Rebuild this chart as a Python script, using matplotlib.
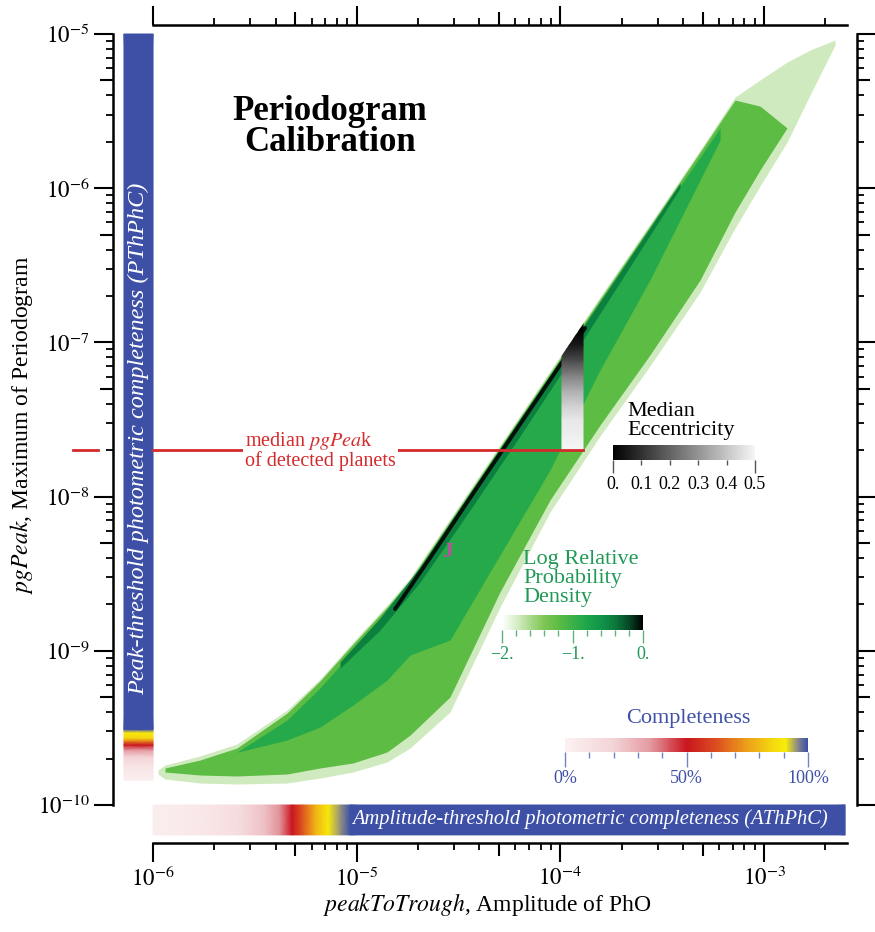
import numpy as np
import matplotlib
matplotlib.use('Agg')
import matplotlib.pyplot as plt
from matplotlib.colors import LinearSegmentedColormap, Normalize
from matplotlib.cm import ScalarMappable
from matplotlib.ticker import FixedLocator, FixedFormatter

plt.rcParams['font.family'] = ['Liberation Serif', 'DejaVu Serif']
plt.rcParams['mathtext.fontset'] = 'stix'

# ---- data ----
# green density band (peakToTrough -> pgPeak), drawn as nested iso-density regions
halo_amp = [1.058e-6, 1.145e-6, 1.70e-6, 2.58e-6, 4.55e-6, 6.60e-6, 9.59e-6, 1.408e-5, 1.827e-5, 2.87e-5,
            5.05e-5, 8.89e-5, 1.564e-4, 2.75e-4, 4.85e-4, 7.20e-4, 9.55e-4, 1.296e-3, 1.68e-3, 2.23e-3]
halo_upper = [1.687e-10, 1.817e-10, 2.08e-10, 2.486e-10, 4.13e-10, 6.56e-10, 1.140e-9, 1.981e-9, 2.966e-9, 7.16e-9,
              2.161e-8, 6.53e-8, 1.970e-7, 5.86e-7, 1.769e-6, 3.90e-6, 5.03e-6, 6.58e-6, 7.87e-6, 9.14e-6]
halo_lower = [1.589e-10, 1.474e-10, 1.389e-10, 1.368e-10, 1.389e-10, 1.496e-10, 1.637e-10, 1.900e-10, 2.34e-10, 4.01e-10,
              1.92e-9, 7.94e-9, 2.47e-8, 7.03e-8, 2.12e-7, 5.52e-7, 1.033e-6, 1.993e-6, 4.02e-6, 8.49e-6]

body_amp = [1.145e-6, 1.70e-6, 2.58e-6, 4.55e-6, 6.60e-6, 9.59e-6, 1.408e-5, 1.827e-5, 2.87e-5, 5.05e-5,
            8.89e-5, 1.564e-4, 2.75e-4, 4.85e-4, 7.20e-4, 9.55e-4, 1.296e-3]
body_upper = [1.738e-10, 1.957e-10, 2.34e-10, 3.95e-10, 6.37e-10, 1.106e-9, 1.92e-9, 2.877e-9, 6.95e-9, 2.10e-8,
              6.33e-8, 1.912e-7, 5.69e-7, 1.717e-6, 3.73e-6, 3.41e-6, 2.46e-6]
body_lower = [1.637e-10, 1.565e-10, 1.542e-10, 1.589e-10, 1.738e-10, 1.873e-10, 2.207e-10, 2.84e-10, 5.02e-10, 2.41e-9,
              9.51e-9, 2.91e-8, 8.28e-8, 2.54e-7, 7.01e-7, 1.312e-6, 2.46e-6]

core_amp = [2.58e-6, 4.55e-6, 6.60e-6, 9.59e-6, 1.408e-5, 1.827e-5, 2.87e-5, 5.05e-5, 8.89e-5, 1.564e-4,
            2.75e-4, 4.85e-4, 6.08e-4]
core_upper = [2.2e-10, 3.56e-10, 5.74e-10, 9.97e-10, 1.758e-9, 2.67e-9, 6.54e-9, 2.005e-8, 6.05e-8, 1.80e-7,
              5.36e-7, 1.593e-6, 2.46e-6]
core_lower = [2.2e-10, 2.64e-10, 3.20e-10, 4.45e-10, 6.46e-10, 9.39e-10, 1.175e-9, 4.18e-9, 1.488e-8, 6.62e-8,
              2.54e-7, 1.130e-6, 2.05e-6]

deep_amp = [8.28e-6, 1.301e-5, 2.046e-5, 3.60e-5, 6.33e-5, 1.115e-4, 1.962e-4, 3.87e-4]
deep_upper = [8.46e-10, 1.632e-9, 3.50e-9, 1.055e-8, 3.19e-8, 9.48e-8, 2.86e-7, 1.081e-6]
deep_lower = [7.73e-10, 1.364e-9, 2.79e-9, 8.18e-9, 2.47e-8, 7.69e-8, 2.46e-7, 1.003e-6]

ridge_amp = [1.542e-5, 2.29e-5, 3.60e-5, 5.66e-5, 8.89e-5, 1.321e-4]
ridge_pg = [1.866e-9, 4.00e-9, 9.79e-9, 2.363e-8, 5.70e-8, 1.240e-7]

# log relative density level of each region
level_halo, level_body, level_core, level_deep, level_ridge = -1.6, -1.2, -0.85, -0.45, -0.05

# median eccentricity strip
ecc_amp = [1.018e-4, 1.291e-4]
ecc_pg = [2.0e-8, 2.33e-8, 3.14e-8, 3.93e-8, 4.91e-8, 6.14e-8, 7.69e-8, 9.62e-8, 1.203e-7, 1.45e-7]
ecc_med = [0.5, 0.49, 0.47, 0.42, 0.35, 0.26, 0.15, 0.05, 0.0, 0.0]

median_pg = 2.0e-8
jupiter_amp, jupiter_pg = 2.78e-5, 4.37e-9

# completeness along each axis
athphc_amp = [1.0e-6, 1.7e-6, 2.67e-6, 3.54e-6, 4.2e-6, 4.81e-6, 5.45e-6, 6.24e-6, 7.24e-6, 8.3e-6, 9.3e-6, 2.5e-3]
athphc = [0.02, 0.06, 0.14, 0.25, 0.36, 0.5, 0.64, 0.78, 0.9, 0.95, 1.0, 1.0]
pthphc_pg = [1.45e-10, 1.76e-10, 2.05e-10, 2.27e-10, 2.45e-10, 2.6e-10, 2.72e-10, 2.93e-10, 3.0e-10, 3.1e-10, 1.0e-5]
pthphc = [0.02, 0.08, 0.2, 0.35, 0.5, 0.7, 0.85, 0.9, 0.93, 1.0, 1.0]

# axis ticks
x_major = [1e-6, 1e-5, 1e-4, 1e-3, 5e-6, 5e-5, 5e-4]
x_labels = ['$10^{-6}$', '$10^{-5}$', '$10^{-4}$', '$10^{-3}$', '', '', '']
x_minor = [2e-6, 3e-6, 4e-6, 6e-6, 7e-6, 8e-6, 9e-6, 2e-5, 3e-5, 4e-5, 6e-5, 7e-5, 8e-5, 9e-5,
           2e-4, 3e-4, 4e-4, 6e-4, 7e-4, 8e-4, 9e-4, 2e-3]
y_major = [1e-10, 1e-9, 1e-8, 1e-7, 1e-6, 1e-5, 5e-10, 5e-9, 5e-8, 5e-7, 5e-6]
y_labels = ['$10^{-10}$', '$10^{-9}$', '$10^{-8}$', '$10^{-7}$', '$10^{-6}$', '$10^{-5}$', '', '', '', '', '']
y_minor = [k * 10.0 ** e for e in range(-10, -5) for k in (2, 3, 4, 6, 7, 8, 9)]

# colour scales
dens_cmap = LinearSegmentedColormap.from_list('dens', [
    (0.0, '#ffffff'), (0.1, '#d8eec8'), (0.2, '#a9d98a'), (0.3, '#7cc652'), (0.4, '#5cbc44'),
    (0.5, '#3bb14a'), (0.6, '#1ea64a'), (0.7, '#10954a'), (0.8, '#0b7a3c'), (0.9, '#064826'), (1.0, '#000000')])
ecc_cmap = LinearSegmentedColormap.from_list('ecc', ['#000000', '#f6f6f6'])
comp_cmap = LinearSegmentedColormap.from_list('comp', [
    (0.0, '#fcf1f1'), (0.2, '#f3d3d6'), (0.35, '#e49aa1'), (0.5, '#c9151f'), (0.62, '#dc4c20'),
    (0.75, '#eca01a'), (0.87, '#f6df0e'), (0.91, '#f8ec0a'), (0.955, '#8f8e85'), (1.0, '#3d50a6')])
dens_norm = Normalize(-2, 0)

W, H = 875, 932
fig = plt.figure(figsize=(W / 100, H / 100), dpi=100)
ax = fig.add_axes([113 / W, 1 - 843 / H, 744 / W, 818 / H])
ax.set_xscale('log')
ax.set_yscale('log')

# density band
ax.fill_between(halo_amp, halo_lower, halo_upper, color=dens_cmap(dens_norm(level_halo)), lw=0, alpha=0.55, zorder=1)
body = ax.fill_between(body_amp, body_lower, body_upper, color=dens_cmap(dens_norm(level_body)), lw=0, zorder=1.1)
ax.fill_between(core_amp, core_lower, core_upper, color=dens_cmap(dens_norm(level_core)), lw=0, zorder=1.2)
ax.fill_between(deep_amp, deep_lower, deep_upper, color=dens_cmap(dens_norm(level_deep)), lw=0, zorder=1.3)
ax.plot(ridge_amp, ridge_pg, color=dens_cmap(dens_norm(level_ridge)), lw=2.8, solid_capstyle='round', zorder=1.4)

# eccentricity strip, clipped to the band
ex, ey = np.meshgrid(ecc_amp, ecc_pg)
ec = np.tile(np.array(ecc_med)[:, None], (1, 2))
strip = ax.pcolormesh(ex, ey, ec, cmap=ecc_cmap, norm=Normalize(0, 0.5), shading='gouraud', zorder=1.5)
strip.set_clip_path(body.get_paths()[0], ax.transData)

# completeness bars
bx, by = np.meshgrid(athphc_amp, [6.4e-11, 1.0e-10])
ax.pcolormesh(bx, by, np.tile(athphc, (2, 1)), cmap=comp_cmap, norm=Normalize(0, 1), shading='gouraud', zorder=2)
lx, ly = np.meshgrid([7.2e-7, 1.0e-6], pthphc_pg)
ax.pcolormesh(lx, ly, np.tile(np.array(pthphc)[:, None], (1, 2)), cmap=comp_cmap, norm=Normalize(0, 1),
              shading='gouraud', zorder=2)

# median pgPeak of detected planets
red = '#d42a2c'
ax.plot([1e-6, ecc_amp[-1]], [median_pg, median_pg], color=red, lw=2, zorder=5)
ax.plot([4.05e-7, 5.37e-7], [median_pg, median_pg], color=red, lw=2, clip_on=False, zorder=5)
ax.text(2.83e-6, median_pg, 'median $\\mathit{pgPea}$k\nof detected planets', color=red, fontsize=14.5,
        ha='left', va='center', linespacing=0.95, zorder=6,
        bbox=dict(facecolor='white', edgecolor='none', pad=1.5))

ax.text(jupiter_amp, jupiter_pg, 'J', color='#bd4f9d', fontsize=15, fontweight='bold', ha='center', va='center',
        zorder=6)

ax.set_xlim(6.36e-7, 2.858e-3)
ax.set_ylim(5.67e-11, 1.144e-5)

# frame
for s in ax.spines.values():
    s.set_linewidth(1.8)
ax.spines['bottom'].set_bounds(1e-6, 2.55e-3)
ax.spines['top'].set_bounds(1e-6, 2.55e-3)
ax.spines['left'].set_bounds(1e-10, 1e-5)
ax.spines['right'].set_bounds(1e-10, 1e-5)

ax.xaxis.set_major_locator(FixedLocator(x_major))
ax.xaxis.set_major_formatter(FixedFormatter(x_labels))
ax.xaxis.set_minor_locator(FixedLocator(x_minor))
ax.yaxis.set_major_locator(FixedLocator(y_major))
ax.yaxis.set_major_formatter(FixedFormatter(y_labels))
ax.yaxis.set_minor_locator(FixedLocator(y_minor))
ax.tick_params(which='both', direction='out', top=True, right=True, labeltop=False, labelright=False)
ax.tick_params(which='major', length=14, width=1.5, labelsize=16.5, pad=3)
ax.tick_params(which='minor', length=5, width=1.3)
for t in ax.xaxis.get_major_ticks(len(x_major))[4:]:
    t.tick1line.set_markersize(9.5)
    t.tick2line.set_markersize(9.5)
for t in ax.yaxis.get_major_ticks(len(y_major))[6:]:
    t.tick1line.set_markersize(9.5)
    t.tick2line.set_markersize(9.5)

fig.text(487 / W, 1 - 905 / H, '$\\mathit{peakToTrough}$, Amplitude of PhO', fontsize=17, ha='center', va='center')
fig.text(22 / W, 1 - 425 / H, '$\\mathit{pgPeak}$, Maximum of Periodogram', fontsize=17, ha='center', va='center',
         rotation=90)
fig.text(330 / W, 1 - 127 / H, 'Periodogram\nCalibration', fontsize=25, fontweight='bold', ha='center', va='center',
         linespacing=0.95)
fig.text(139 / W, 1 - 439 / H, 'Peak-threshold photometric completeness (PThPhC)', color='white', style='italic',
         fontsize=17.5, ha='center', va='center', rotation=90)
fig.text(590 / W, 1 - 819 / H, 'Amplitude-threshold photometric completeness (AThPhC)', color='white',
         style='italic', fontsize=14.8, ha='center', va='center')


def colorbar(rect, cmap, vmin, vmax, major, labels, minor, col, lab_col, major_len, minor_len):
    cax = fig.add_axes(rect)
    cb = fig.colorbar(ScalarMappable(Normalize(vmin, vmax), cmap), cax=cax, orientation='horizontal')
    cb.outline.set_visible(False)
    cb.set_ticks(major, labels=labels)
    cb.set_ticks(minor, minor=True)
    cax.tick_params(which='major', length=major_len, width=1, color=col, labelcolor=lab_col, labelsize=13, pad=2)
    cax.tick_params(which='minor', length=minor_len, width=1, color=col)
    return cb


ecc_cb = colorbar([613 / W, 1 - 460 / H, 142 / W, 15 / H], ecc_cmap, 0, 0.5, [0, 0.5], ['0.', '0.5'],
                  [0.1, 0.2, 0.3, 0.4], '#555555', 'black', 9.5, 3.5)
ecc_cb.set_ticks([0.1, 0.2, 0.3, 0.4], labels=['0.1', '0.2', '0.3', '0.4'], minor=True)
ecc_cb.ax.tick_params(which='minor', labelsize=13, pad=2 + 6, labelcolor='black')

colorbar([502 / W, 1 - 630 / H, 141 / W, 15 / H], dens_cmap, -2, 0, [-2, -1, 0], ['\u22122.', '\u22121.', '0.'],
         [-1.8, -1.6, -1.4, -1.2, -0.8, -0.6, -0.4, -0.2], '#5fb37a', '#1f9a55', 9.5, 4)
colorbar([565 / W, 1 - 752 / H, 243 / W, 14 / H], comp_cmap, 0, 100, [0, 50, 100], ['0%', '50%', '100%'],
         [10, 20, 30, 40, 60, 70, 80, 90], '#7583c0', '#3f51a6', 11, 4.5)

fig.text(627 / W, 1 - 440 / H, 'Median\nEccentricity', fontsize=16, ha='left', va='bottom', linespacing=1.0)
fig.text(523 / W, 1 - 607 / H, 'Log Relative\nProbability\nDensity', fontsize=16, color='#1f9a55', ha='left',
         va='bottom', linespacing=1.0)
fig.text(688 / W, 1 - 719 / H, 'Completeness', fontsize=16, color='#3f51a6', ha='center', va='center')

fig.savefig('out.png', dpi=100)
